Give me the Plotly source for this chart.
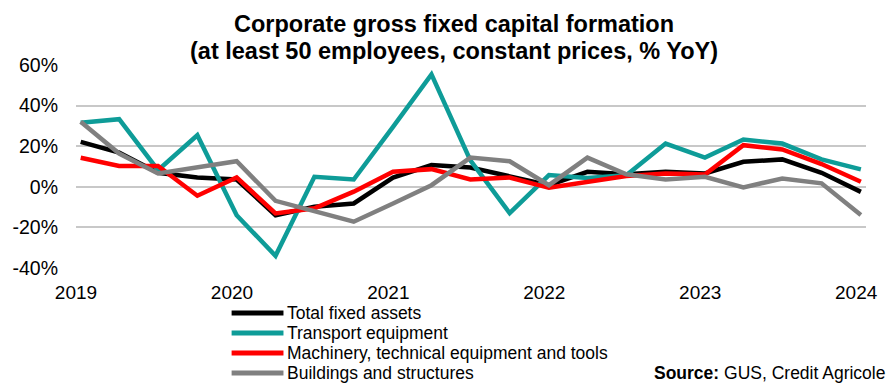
import plotly.graph_objects as go

quarters = ["2019-01-12", "2019-04-12", "2019-07-12", "2019-10-12",
            "2020-01-12", "2020-04-12", "2020-07-12", "2020-10-12",
            "2021-01-12", "2021-04-12", "2021-07-12", "2021-10-12",
            "2022-01-12", "2022-04-12", "2022-07-12", "2022-10-12",
            "2023-01-12", "2023-04-12", "2023-07-12", "2023-10-12",
            "2024-01-12"]

total_fixed = [22.1, 16.8, 6.9, 4.6, 3.6, -14.0, -9.8, -8.2, 4.5, 10.7, 9.5, 4.9,
               0.8, 7.4, 6.2, 7.4, 6.6, 12.3, 13.5, 6.9, -2.5]
transport = [31.5, 33.3, 8.2, 25.4, -14.0, -34.0, 4.9, 3.6, 29.5, 55.4, 13.0, -13.0,
             5.8, 4.3, 5.7, 21.3, 14.4, 23.3, 21.3, 13.5, 8.6]
machinery = [14.3, 10.3, 10.3, -4.4, 4.6, -13.1, -10.6, -2.4, 7.4, 8.7, 3.6, 4.6,
             -0.5, 2.5, 5.3, 6.6, 6.1, 20.5, 18.4, 11.2, 2.5]
buildings = [32.0, 16.4, 6.6, 9.8, 12.6, -6.9, -12.0, -17.2, -8.2, 0.8, 14.4, 12.6,
             0.8, 14.4, 6.2, 3.6, 4.9, -0.3, 4.1, 1.7, -13.9]

series_names = ["Total fixed assets", "Transport equipment",
                "Machinery, technical equipment and tools", "Buildings and structures"]
series_values = [total_fixed, transport, machinery, buildings]
series_colors = ["#000000", "#0E9C98", "#FF0000", "#808080"]

year_ticks = ["2019-01-01", "2020-01-01", "2021-01-01", "2022-01-01", "2023-01-01", "2024-01-01"]
year_labels = ["2019", "2020", "2021", "2022", "2023", "2024"]
y_ticks = [-40, -20, 0, 20, 40, 60]
y_labels = ["-40%", "-20%", "0%", "20%", "40%", "60%"]

title_lines = ["<b>Corporate gross fixed capital formation</b>",
               "<b>(at least 50 employees, constant prices, % YoY)</b>"]
source_text = "<b>Source:</b> GUS, Credit Agricole"

W, H = 890, 385
L, R, T, B = 75, 23, 65, 117
pw, ph = W - L - R, H - T - B

def px_x(px):
    return (px - L) / pw

def px_y(py):
    return (H - B - py) / ph

font_family = "Liberation Sans, Arial, sans-serif"

fig = go.Figure()
for name, vals, col in zip(series_names, series_values, series_colors):
    fig.add_trace(go.Scatter(x=quarters, y=vals, mode="lines", name=name,
                             line=dict(color=col, width=4.5), showlegend=False))

shapes = []
annotations = []
row_y = [313, 333, 353, 373]
for i, (name, col) in enumerate(zip(series_names, series_colors)):
    yy = px_y(row_y[i])
    shapes.append(dict(type="line", xref="paper", yref="paper",
                       x0=px_x(231), x1=px_x(283), y0=yy, y1=yy,
                       line=dict(color=col, width=5)))
    annotations.append(dict(xref="paper", yref="paper", x=px_x(285), y=yy,
                            xanchor="left", yanchor="middle", showarrow=False,
                            text=name, font=dict(family=font_family, size=17.5, color="#000000")))

title_y = [24, 51]
for txt, ty in zip(title_lines, title_y):
    annotations.append(dict(xref="paper", yref="paper", x=px_x(454), y=px_y(ty),
                            xanchor="center", yanchor="middle", showarrow=False,
                            text=txt, font=dict(family=font_family, size=23.5, color="#000000")))

annotations.append(dict(xref="paper", yref="paper", x=px_x(888), y=px_y(373),
                        xanchor="right", yanchor="middle", showarrow=False,
                        text=source_text, font=dict(family=font_family, size=17.5, color="#000000")))

fig.update_layout(
    width=W, height=H,
    margin=dict(l=L, r=R, t=T, b=B),
    paper_bgcolor="white", plot_bgcolor="white",
    shapes=shapes, annotations=annotations,
    xaxis=dict(type="date", range=["2019-01-01", "2024-01-24"],
               tickmode="array", tickvals=year_ticks, ticktext=year_labels,
               showgrid=False, zeroline=False, showline=False, ticks="",
               tickfont=dict(family=font_family, size=19, color="#000000"),
               ticklabelstandoff=11),
    yaxis=dict(range=[-40, 60], tickmode="array", tickvals=y_ticks, ticktext=y_labels,
               showgrid=True, gridcolor="#C8C8C8", gridwidth=2, zeroline=False,
               showline=False, ticks="",
               tickfont=dict(family=font_family, size=19.5, color="#000000"),
               ticklabelstandoff=17),
    showlegend=False,
)

fig.write_html("out.html")
